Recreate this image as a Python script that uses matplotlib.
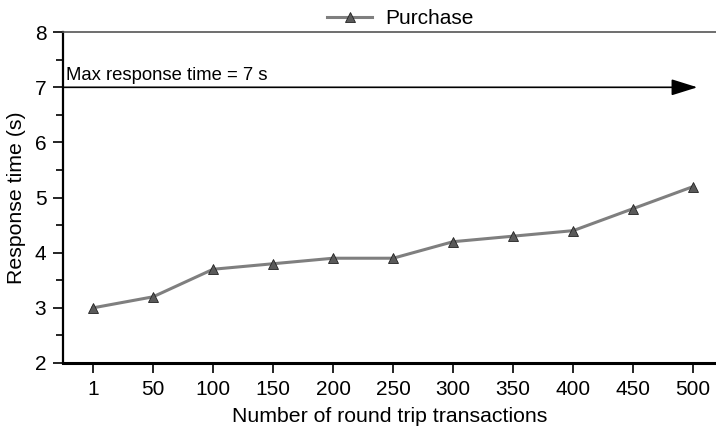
import numpy as np
import matplotlib.pyplot as plt
from matplotlib.ticker import MultipleLocator

plt.rcParams['font.family'] = ['Liberation Sans', 'DejaVu Sans']

# datos
transacciones = ['1', '50', '100', '150', '200', '250', '300', '350', '400', '450', '500']
tiempo = [3.0, 3.2, 3.7, 3.8, 3.9, 3.9, 4.2, 4.3, 4.4, 4.8, 5.2]
max_tiempo = 7

fig = plt.figure(figsize=(7.16, 4.33), dpi=100)
ax = fig.add_axes([0.088, 0.1617, 0.912, 0.764])

x = np.arange(len(transacciones))
ax.plot(x, tiempo, color='#7f7f7f', lw=2.2, marker='^', ms=7,
        mfc='#5a5a5a', mec='#222222', mew=0.6, label='Purchase')

# flecha de tiempo maximo
ax.annotate('', xy=(10.07, max_tiempo), xytext=(-0.5, max_tiempo),
            arrowprops=dict(arrowstyle='-|>,head_length=1.6,head_width=0.5',
                            color='black', lw=1.2, shrinkA=0, shrinkB=0))
ax.text(-0.45, max_tiempo + 0.06, 'Max response time = %d s' % max_tiempo,
        fontsize=13.3, va='bottom', ha='left')

ax.set_xlim(-0.5, 10.38)
ax.set_ylim(2, 8)
ax.set_xticks(x)
ax.set_xticklabels(transacciones)
ax.yaxis.set_major_locator(MultipleLocator(1))
ax.yaxis.set_minor_locator(MultipleLocator(0.5))

ax.spines['right'].set_visible(False)
ax.spines['top'].set_color('#555555')
ax.spines['top'].set_linewidth(1.2)
ax.spines['bottom'].set_linewidth(2.2)
ax.spines['left'].set_linewidth(1.6)

ax.tick_params(axis='both', direction='out', labelsize=15, width=1.2, length=7, pad=5)
ax.tick_params(axis='y', which='minor', direction='out', length=5, width=1.2)

ax.set_xlabel('Number of round trip transactions', fontsize=15.3, labelpad=6)
ax.set_ylabel('Response time (s)', fontsize=15.3, labelpad=6)

ax.legend(loc='lower center', bbox_to_anchor=(0.516, 0.98), frameon=False,
          fontsize=15, handlelength=2.2, borderpad=0, handletextpad=0.6)

fig.savefig('out.png', dpi=100)
